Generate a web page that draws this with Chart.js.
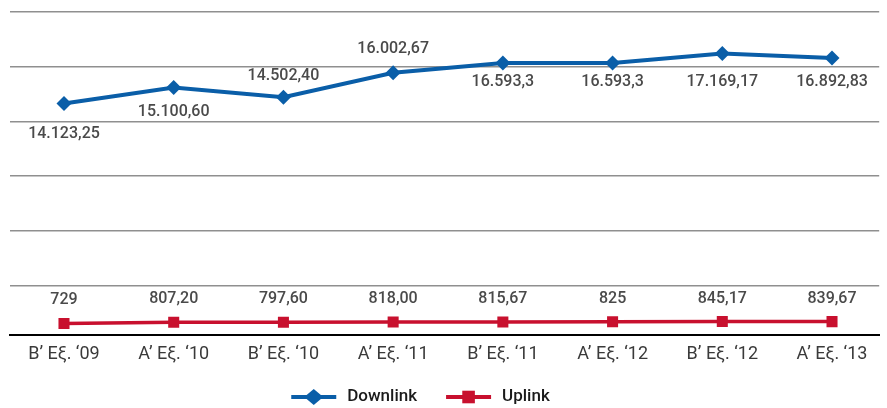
<!DOCTYPE html>
<html lang="el">
<head>
<meta charset="utf-8">
<title>Downlink / Uplink</title>
<script src="https://cdn.jsdelivr.net/npm/chart.js@4.4.1/dist/chart.umd.min.js"></script>
<style>
    html, body { margin: 0; padding: 0; background: #fff; }
    #grafica { display: block; }
</style>
</head>
<body>
<canvas id="grafica" width="887" height="408"></canvas>
<script>
// Data
const periods = ['Β’ Εξ. ‘09', 'Α’ Εξ. ‘10', 'Β’ Εξ. ‘10', 'Α’ Εξ. ‘11', 'Β’ Εξ. ‘11', 'Α’ Εξ. ‘12', 'Β’ Εξ. ‘12', 'Α’ Εξ. ‘13'];
const downlink = [14123.25, 15100.60, 14502.40, 16002.67, 16593.3, 16593.3, 17169.17, 16892.83];
const uplink = [729, 807.20, 797.60, 818.00, 815.67, 825, 845.17, 839.67];
const downlinkText = ['14.123,25', '15.100,60', '14.502,40', '16.002,67', '16.593,3', '16.593,3', '17.169,17', '16.892,83'];
const uplinkText = ['729', '807,20', '797,60', '818,00', '815,67', '825', '845,17', '839,67'];
const gridValues = [3033, 6367, 9700, 13033, 16367, 19700];

const toPoints = (values) => values.map((v, i) => ({ x: i, y: v }));

// value labels next to every point, offset per point (px)
const valueLabels = {
    id: 'valueLabels',
    afterDatasetsDraw(chart) {
        const ctx = chart.ctx;
        chart.data.datasets.forEach((ds, i) => {
            const meta = chart.getDatasetMeta(i);
            ctx.save();
            ctx.font = '500 16px Roboto';
            ctx.fillStyle = '#4a4a4a';
            ctx.textAlign = 'center';
            ctx.textBaseline = 'middle';
            meta.data.forEach((pt, j) => {
                ctx.fillText(ds.valueText[j], pt.x, pt.y + ds.labelOffsets[j]);
            });
            ctx.restore();
        });
    }
};

// legend with a line + marker icon, like the original
const lineLegend = {
    id: 'lineLegend',
    afterDraw(chart, args, opts) {
        const ctx = chart.ctx;
        ctx.save();
        ctx.font = '500 17px Roboto';
        const items = chart.data.datasets.map(ds => ({ ds, w: ctx.measureText(ds.label).width }));
        let total = items.reduce((s, it) => s + opts.iconWidth + opts.gap + it.w, 0) + opts.spacing * (items.length - 1);
        let x = opts.centerX - total / 2;
        const y = opts.y;
        items.forEach(({ ds, w }) => {
            ctx.strokeStyle = ds.borderColor;
            ctx.fillStyle = ds.borderColor;
            ctx.lineWidth = 4;
            ctx.beginPath();
            ctx.moveTo(x, y);
            ctx.lineTo(x + opts.iconWidth, y);
            ctx.stroke();
            const cx = x + opts.iconWidth / 2;
            ctx.beginPath();
            if (ds.pointStyle === 'rectRot') {
                ctx.moveTo(cx - 9.5, y);
                ctx.lineTo(cx, y - 8);
                ctx.lineTo(cx + 9.5, y);
                ctx.lineTo(cx, y + 8);
                ctx.closePath();
            } else {
                ctx.rect(cx - 6.3, y - 6.3, 12.6, 12.6);
            }
            ctx.fill();
            ctx.fillStyle = '#1a1a1a';
            ctx.textAlign = 'left';
            ctx.textBaseline = 'middle';
            ctx.fillText(ds.label, x + opts.iconWidth + opts.gap, y);
            x += opts.iconWidth + opts.gap + w + opts.spacing;
        });
        ctx.restore();
    }
};

const ctx = document.getElementById('grafica').getContext('2d');
const chart = new Chart(ctx, {
    type: 'line',
    data: {
        datasets: [{
            label: 'Downlink',
            data: toPoints(downlink),
            valueText: downlinkText,
            labelOffsets: [30.5, 24.4, -21.3, -23.8, 19.3, 19.3, 28.7, 24.2],
            borderColor: '#0a5ea8',
            backgroundColor: '#0a5ea8',
            borderWidth: 4,
            pointStyle: 'rectRot',
            pointRadius: 7.5,
            pointBorderWidth: 0,
            tension: 0
        }, {
            label: 'Uplink',
            data: toPoints(uplink),
            valueText: uplinkText,
            labelOffsets: [-23, -23, -23, -23, -23, -23, -23, -23],
            borderColor: '#c8102e',
            backgroundColor: '#c8102e',
            borderWidth: 3.5,
            pointStyle: 'rect',
            pointRadius: 7.8,
            pointBorderWidth: 0,
            tension: 0
        }]
    },
    options: {
        responsive: false,
        animation: false,
        events: [],
        layout: {
            padding: { left: 10, right: 0, top: 12, bottom: 35 }
        },
        scales: {
            x: {
                type: 'linear',
                min: -0.492,
                max: 7.43,
                afterBuildTicks: (scale) => {
                    scale.ticks = periods.map((p, i) => ({ value: i }));
                },
                grid: { display: false, drawTicks: false },
                border: { display: true, color: '#000', width: 2 },
                ticks: {
                    padding: 8,
                    color: '#3a3a3a',
                    font: { family: 'Roboto', size: 18 },
                    maxRotation: 0,
                    autoSkip: false,
                    callback: (value) => periods[value]
                }
            },
            y: {
                min: 0,
                max: 19700,
                afterBuildTicks: (scale) => {
                    scale.ticks = gridValues.map(v => ({ value: v }));
                },
                grid: { color: '#8f8f8f', lineWidth: 1.5, drawTicks: false },
                border: { display: false },
                ticks: { display: false }
            }
        },
        plugins: {
            legend: { display: false },
            tooltip: { enabled: false },
            lineLegend: { centerX: 420.5, y: 397, iconWidth: 45, gap: 11, spacing: 29 }
        }
    },
    plugins: [valueLabels, lineLegend]
});
</script>
</body>
</html>
